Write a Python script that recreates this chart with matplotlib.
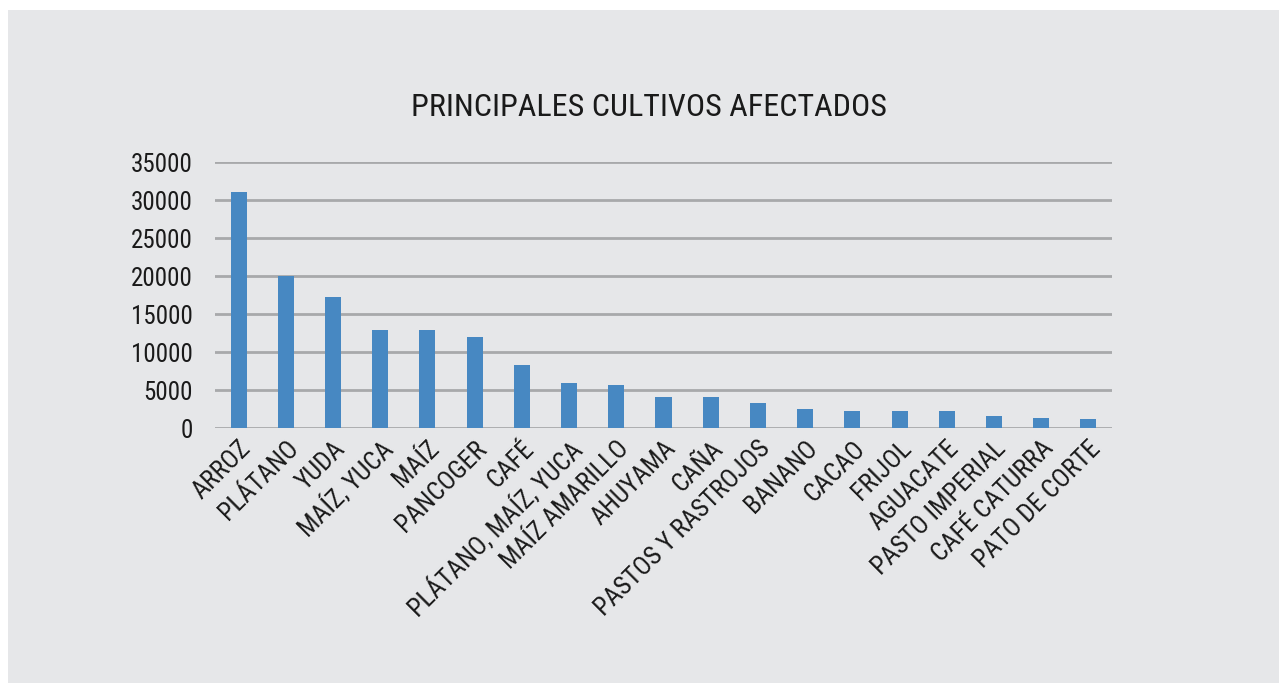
import matplotlib
matplotlib.use("Agg")
import matplotlib.pyplot as plt
from matplotlib.patches import Rectangle

categories = ["ARROZ", "PLÁTANO", "YUDA", "MAÍZ, YUCA", "MAÍZ", "PANCOGER", "CAFÉ",
              "PLÁTANO, MAÍZ, YUCA", "MAÍZ AMARILLO", "AHUYAMA", "CAÑA",
              "PASTOS Y RASTROJOS", "BANANO", "CACAO", "FRIJOL", "AGUACATE",
              "PASTO IMPERIAL", "CAFÉ CATURRA", "PATO DE CORTE"]
values = [31050, 19950, 17250, 12900, 12900, 12000, 8300, 5900, 5700, 4100, 4100,
          3300, 2500, 2200, 2200, 2200, 1600, 1300, 1200]
yticks = [0, 5000, 10000, 15000, 20000, 25000, 30000, 35000]
title = "PRINCIPALES CULTIVOS AFECTADOS"

font = ["Roboto Condensed", "DejaVu Sans"]
plt.rcParams['font.family'] = font

W, H = 1279, 683
fig = plt.figure(figsize=(W/100, H/100), dpi=100, facecolor="white")
bg = "#e6e7e9"
fig.patches.append(Rectangle((8/W, 0), 1 - 8/W, (H-10)/H, transform=fig.transFigure,
                             facecolor=bg, edgecolor="none", zorder=-10))

ax = fig.add_axes([215/W, 1 - 428/H, (1112-215)/W, (428-162)/H])
ax.set_facecolor("none")
ax.set_zorder(5)
x = range(len(categories))
ax.bar(x, values, width=0.34, color="#4788c2", zorder=3)
ax.set_xlim(-0.5, len(categories) - 0.5)
ax.set_ylim(0, 35000)
ax.set_yticks(yticks)
ax.set_yticklabels([str(v) for v in yticks], fontsize=18, color="#1a1a1a")
ax.set_xticks(list(x))
ax.set_xticklabels(categories, rotation=45, ha="right", rotation_mode="anchor",
                   fontsize=18.5, color="#1a1a1a")
ax.tick_params(axis="both", length=0)
ax.tick_params(axis="y", pad=16)
ax.tick_params(axis="x", pad=6)
for s in ax.spines.values():
    s.set_visible(False)
ax.grid(axis="y", color="#a8a9ab", linewidth=2, zorder=1)
ax.set_axisbelow(True)

fig.text(649/W, 1 - 108/H, title, ha="center", va="center", fontsize=23, color="#1a1a1a")

fig.savefig("out.png", dpi=100, facecolor="white")
